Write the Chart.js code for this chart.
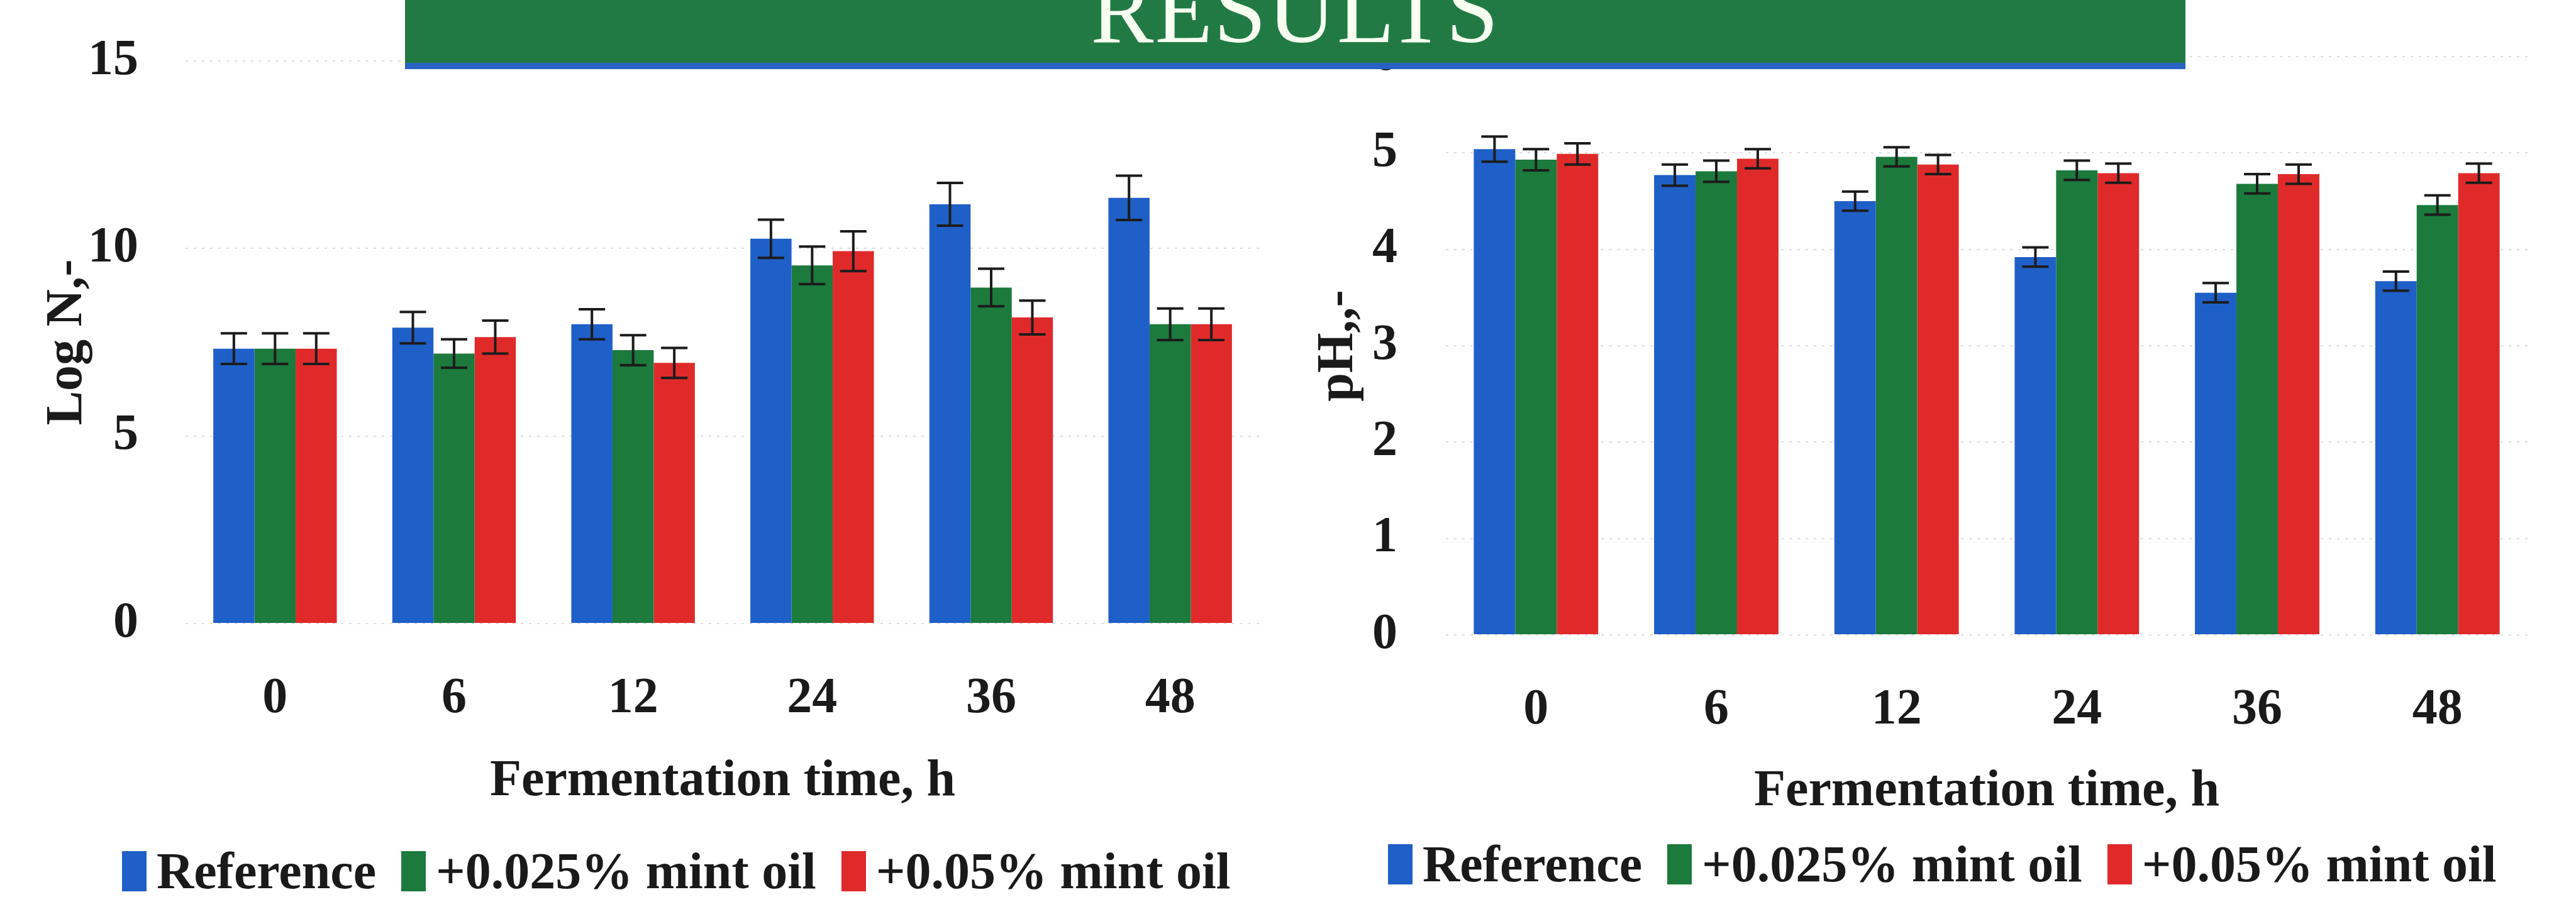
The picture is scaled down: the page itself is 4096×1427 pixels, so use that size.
<!DOCTYPE html>
<html>
<head>
<meta charset="utf-8">
<title>Results - fermentation</title>
<script src="https://cdn.jsdelivr.net/npm/chart.js@4.4.1/dist/chart.umd.min.js"></script>
<style>
    html, body { margin: 0; padding: 0; background: #fff; }
    body {
        width: 4096px; height: 1427px; position: relative; overflow: hidden;
        font-family: 'Liberation Serif', 'Times New Roman', serif;
    }
    .chart-box { position: absolute; top: 0; }
    #leftBox { left: 0; width: 2060px; height: 1300px; }
    #rightBox { left: 2060px; width: 2036px; height: 1310px; }
    .banner {
        position: absolute; left: 644px; top: 0; width: 2831px; height: 100px;
        background: #217a44; border-bottom: 10px solid #2862c2;
        z-index: 5; overflow: hidden;
    }
    .banner span {
        position: absolute; left: 0; right: 0; top: -59px;
        text-align: center; font-size: 150px; line-height: 150px;
        color: #f6fff0; letter-spacing: 2px;
    }
    .legend {
        position: absolute; height: 100px; display: flex; align-items: center;
        font-weight: bold; font-size: 82px; color: #1a1a1a; white-space: nowrap;
    }
    .legend .item { display: flex; align-items: center; margin-right: 40px; }
    .legend .swatch { display: inline-block; width: 39px; height: 64px; margin-right: 16px; }
</style>
</head>
<body>

<div class="banner"><span>RESULTS</span></div>

<div class="chart-box" id="leftBox"><canvas id="logNChart" width="2060" height="1300"></canvas></div>
<div class="chart-box" id="rightBox"><canvas id="phChart" width="2036" height="1310"></canvas></div>

<div class="legend" id="leftLegend" style="left:194px; top:1336px;"></div>
<div class="legend" id="rightLegend" style="left:2207px; top:1325px;"></div>

<script>
// Fermentation times (categories)
const hours = ['0', '6', '12', '24', '36', '48'];
const seriesNames = ['Reference', '+0.025% mint oil', '+0.05% mint oil'];
const seriesColors = ['#1f5fc8', '#1b7a3c', '#e02a2a'];

// Log N, - (left chart)
const logNReference = [7.33, 7.89, 7.98, 10.26, 11.18, 11.35];
const logNMint025 = [7.33, 7.20, 7.29, 9.55, 8.96, 7.98];
const logNMint05 = [7.33, 7.64, 6.95, 9.93, 8.16, 7.98];
const logNErrReference = [0.41, 0.42, 0.40, 0.51, 0.57, 0.59];
const logNErrMint025 = [0.41, 0.38, 0.40, 0.50, 0.50, 0.42];
const logNErrMint05 = [0.41, 0.44, 0.40, 0.53, 0.45, 0.42];
const logNTicks = [0, 5, 10, 15];

// pH (right chart)
const phReference = [5.04, 4.77, 4.50, 3.92, 3.55, 3.67];
const phMint025 = [4.93, 4.81, 4.96, 4.82, 4.68, 4.46];
const phMint05 = [4.99, 4.94, 4.88, 4.79, 4.78, 4.79];
const phErrReference = [0.13, 0.11, 0.10, 0.10, 0.10, 0.10];
const phErrMint025 = [0.11, 0.11, 0.10, 0.10, 0.10, 0.10];
const phErrMint05 = [0.11, 0.10, 0.10, 0.10, 0.10, 0.10];
const phTicks = [0, 1, 2, 3, 4, 5, 6];

const SERIF = "'Liberation Serif', 'Times New Roman', serif";

// Draw the +/- error bars on top of each bar
const errorBarPlugin = {
    id: 'errorBars',
    afterDatasetsDraw(chart) {
        const ctx = chart.ctx;
        const yScale = chart.scales.y;
        ctx.save();
        ctx.strokeStyle = '#1c1c1c';
        ctx.lineWidth = 4;
        chart.data.datasets.forEach((ds, i) => {
            const meta = chart.getDatasetMeta(i);
            meta.data.forEach((bar, j) => {
                const v = ds.data[j];
                const e = ds.errors[j];
                const top = yScale.getPixelForValue(v + e);
                const bottom = yScale.getPixelForValue(v - e);
                ctx.beginPath();
                ctx.moveTo(bar.x, top);
                ctx.lineTo(bar.x, bottom);
                ctx.moveTo(bar.x - 21, top);
                ctx.lineTo(bar.x + 21, top);
                ctx.moveTo(bar.x - 21, bottom);
                ctx.lineTo(bar.x + 21, bottom);
                ctx.stroke();
            });
        });
        ctx.restore();
    }
};

function buildChart(canvasId, values, errors, ticks, opts) {
    const ctx = document.getElementById(canvasId);
    const datasets = values.map((data, i) => ({
        label: seriesNames[i],
        data: data,
        errors: errors[i],
        backgroundColor: seriesColors[i],
        borderWidth: 0,
        categoryPercentage: 0.69,
        barPercentage: 1.0
    }));

    return new Chart(ctx, {
        type: 'bar',
        data: { labels: hours, datasets: datasets },
        options: {
            responsive: false,
            animation: false,
            layout: { padding: opts.padding },
            plugins: {
                legend: { display: false },
                tooltip: { enabled: false }
            },
            scales: {
                x: {
                    grid: { display: false },
                    border: { display: false },
                    ticks: {
                        color: '#1a1a1a',
                        padding: 64,
                        font: { family: SERIF, size: 80, weight: 'bold' }
                    },
                    title: {
                        display: true,
                        text: 'Fermentation time, h',
                        color: '#1a1a1a',
                        padding: { top: 0, bottom: opts.xTitlePad },
                        font: { family: SERIF, size: 82, weight: 'bold' }
                    },
                    afterFit: s => { s.height = opts.xHeight; }
                },
                y: {
                    min: ticks[0],
                    max: ticks[ticks.length - 1],
                    grid: {
                        color: 'rgba(185, 185, 198, 0.5)',
                        lineWidth: 2,
                        drawTicks: false
                    },
                    border: { display: false, dash: [4, 9] },
                    ticks: {
                        stepSize: ticks[1] - ticks[0],
                        color: '#1a1a1a',
                        padding: opts.yTickPad,
                        font: { family: SERIF, size: 80, weight: 'bold' }
                    },
                    title: {
                        display: true,
                        text: opts.yTitle,
                        color: '#1a1a1a',
                        padding: { top: opts.yTitlePad, bottom: 0 },
                        font: { family: SERIF, size: 82, weight: 'bold' }
                    },
                    afterFit: s => {
                        s.width = opts.yWidth;
                        // keep the plot top/bottom where the layout padding puts it
                        s.paddingTop = 0;
                        s.paddingBottom = 0;
                    }
                }
            }
        },
        plugins: [errorBarPlugin]
    });
}

// Simple HTML legend under each chart
function buildLegend(id) {
    const box = document.getElementById(id);
    seriesNames.forEach((name, i) => {
        const item = document.createElement('div');
        item.className = 'item';
        const sw = document.createElement('span');
        sw.className = 'swatch';
        sw.style.background = seriesColors[i];
        item.appendChild(sw);
        item.appendChild(document.createTextNode(name));
        box.appendChild(item);
    });
}

buildChart('logNChart',
    [logNReference, logNMint025, logNMint05],
    [logNErrReference, logNErrMint025, logNErrMint05],
    logNTicks,
    {
        padding: { top: 97, right: 57, left: 0, bottom: 0 },
        yTitle: 'Log N,-',
        yWidth: 295, yTickPad: 75, yTitlePad: 59,
        xHeight: 308, xTitlePad: 7
    });

buildChart('phChart',
    [phReference, phMint025, phMint05],
    [phErrReference, phErrMint025, phErrMint05],
    phTicks,
    {
        padding: { top: 90, right: 77, left: 0, bottom: 0 },
        yTitle: 'pH,,-',
        yWidth: 239, yTickPad: 77, yTitlePad: 20,
        xHeight: 300, xTitlePad: 1
    });

buildLegend('leftLegend');
buildLegend('rightLegend');
</script>
</body>
</html>
